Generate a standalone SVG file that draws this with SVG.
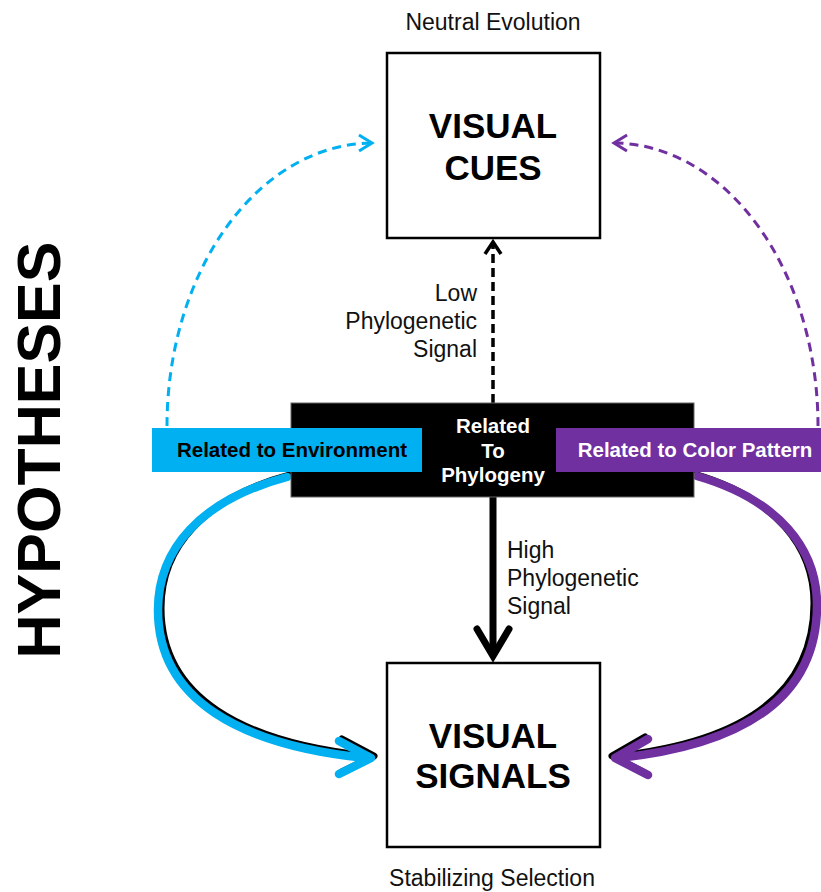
<svg xmlns="http://www.w3.org/2000/svg" width="821" height="892" viewBox="0 0 821 892">
  <style>
    .lbl { font-family: "Liberation Sans", Arial, sans-serif; font-size: 23px; fill: #111; }
    .big { font-family: "Liberation Sans", Arial, sans-serif; font-size: 35px; font-weight: bold; fill: #000; text-anchor: middle; }
    .bar { font-family: "Liberation Sans", Arial, sans-serif; font-size: 20.5px; font-weight: bold; text-anchor: middle; }
    .box { fill: #fff; stroke: #000; stroke-width: 2.5; }
    .dash { fill: none; stroke-width: 3; stroke-dasharray: 9 6; }
  </style>
  <defs>
    <marker id="hb" markerUnits="userSpaceOnUse" markerWidth="30" markerHeight="30" viewBox="-20 -15 30 30" refX="0" refY="0" orient="auto">
      <path d="M -13 -8 L 0 0 L -13 8" fill="none" stroke="#00b0f0" stroke-width="3"/>
    </marker>
    <marker id="hp" markerUnits="userSpaceOnUse" markerWidth="30" markerHeight="30" viewBox="-20 -15 30 30" refX="0" refY="0" orient="auto">
      <path d="M -13 -8 L 0 0 L -13 8" fill="none" stroke="#7030a0" stroke-width="3"/>
    </marker>
    <marker id="hk" markerUnits="userSpaceOnUse" markerWidth="30" markerHeight="30" viewBox="-20 -15 30 30" refX="0" refY="0" orient="auto">
      <path d="M -12 -8 L 0 0 L -12 8" fill="none" stroke="#000" stroke-width="3.5"/>
    </marker>
  </defs>
  <rect width="821" height="892" fill="#fff"/>

  <g id="connectors">
    <!-- dashed arcs to VISUAL CUES -->
    <path class="dash" stroke="#00b0f0" d="M 167 426 A 206 283 0 0 1 372 143" marker-end="url(#hb)"/>
    <path class="dash" stroke="#7030a0" d="M 818 426 A 205 283 0 0 0 614 143" marker-end="url(#hp)"/>
    <!-- low phylogenetic signal -->
    <path d="M 493 403 L 493 242" fill="none" stroke="#000" stroke-width="3.5" stroke-dasharray="9 5" marker-end="url(#hk)"/>
    <!-- high phylogenetic signal -->
    <path d="M 493 497 L 493 656" fill="none" stroke="#000" stroke-width="7"/>
    <path d="M 477 629 L 493 656 L 509 629" fill="none" stroke="#000" stroke-width="7" stroke-linecap="round" stroke-linejoin="miter"/>
    <!-- environment curved arrow -->
    <g transform="translate(3,-2)" fill="none" stroke="#000" stroke-width="7" stroke-linecap="round" stroke-linejoin="round">
      <path d="M 287 477 C 200 500, 158 550, 158 610 C 158 700, 240 745, 366 758"/>
      <path d="M 339 741 L 371 758 L 339 774"/>
    </g>
    <g fill="none" stroke="#00b0f0" stroke-width="8.5" stroke-linecap="round" stroke-linejoin="round">
      <path d="M 287 477 C 200 500, 158 550, 158 610 C 158 700, 240 745, 366 758"/>
      <path d="M 339 741 L 371 758 L 339 774"/>
    </g>
    <!-- color pattern curved arrow -->
    <g transform="translate(-3,-2)" fill="none" stroke="#000" stroke-width="7" stroke-linecap="round" stroke-linejoin="round">
      <path d="M 697 476 C 780 500, 817 550, 817 605 C 817 700, 740 745, 619 758"/>
      <path d="M 648 739 L 615 758 L 648 775"/>
    </g>
    <g fill="none" stroke="#7030a0" stroke-width="8.5" stroke-linecap="round" stroke-linejoin="round">
      <path d="M 697 476 C 780 500, 817 550, 817 605 C 817 700, 740 745, 619 758"/>
      <path d="M 648 739 L 615 758 L 648 775"/>
    </g>
  </g>

  <g id="title">
    <text x="60" y="450" transform="rotate(-90 60 450)" font-family="'Liberation Sans', Arial, sans-serif" font-size="61" font-weight="bold" text-anchor="middle" fill="#000">HYPOTHESES</text>
  </g>

  <g id="visual-cues">
    <text class="lbl" x="493" y="30" text-anchor="middle">Neutral Evolution</text>
    <rect class="box" x="387" y="53" width="213" height="185"/>
    <text class="big" x="493" y="138">VISUAL</text>
    <text class="big" x="493" y="180">CUES</text>
  </g>

  <g id="low-signal-label">
    <text class="lbl" text-anchor="end" x="477" y="301">Low</text>
    <text class="lbl" text-anchor="end" x="477" y="329">Phylogenetic</text>
    <text class="lbl" text-anchor="end" x="477" y="357">Signal</text>
  </g>

  <g id="related-to-phylogeny">
    <rect x="291" y="403" width="403" height="94" fill="#000" stroke="#666" stroke-width="1"/>
    <text class="bar" x="493" y="433" fill="#fff">Related</text>
    <text class="bar" x="493" y="458" fill="#fff">To</text>
    <text class="bar" x="493" y="482" fill="#fff">Phylogeny</text>
  </g>

  <g id="related-to-environment">
    <rect x="152" y="428" width="270" height="44" fill="#00b0f0"/>
    <text class="bar" x="292" y="457" fill="#000">Related to Environment</text>
  </g>

  <g id="related-to-color-pattern">
    <rect x="556" y="428" width="265" height="44" fill="#7030a0"/>
    <text class="bar" x="695" y="457" fill="#fff">Related to Color Pattern</text>
  </g>

  <g id="high-signal-label">
    <text class="lbl" x="507" y="558">High</text>
    <text class="lbl" x="507" y="586">Phylogenetic</text>
    <text class="lbl" x="507" y="614">Signal</text>
  </g>

  <g id="visual-signals">
    <rect class="box" x="387" y="663" width="213" height="184"/>
    <text class="big" x="493" y="748">VISUAL</text>
    <text class="big" x="493" y="788">SIGNALS</text>
    <text class="lbl" x="492" y="886" text-anchor="middle">Stabilizing Selection</text>
  </g>
</svg>
